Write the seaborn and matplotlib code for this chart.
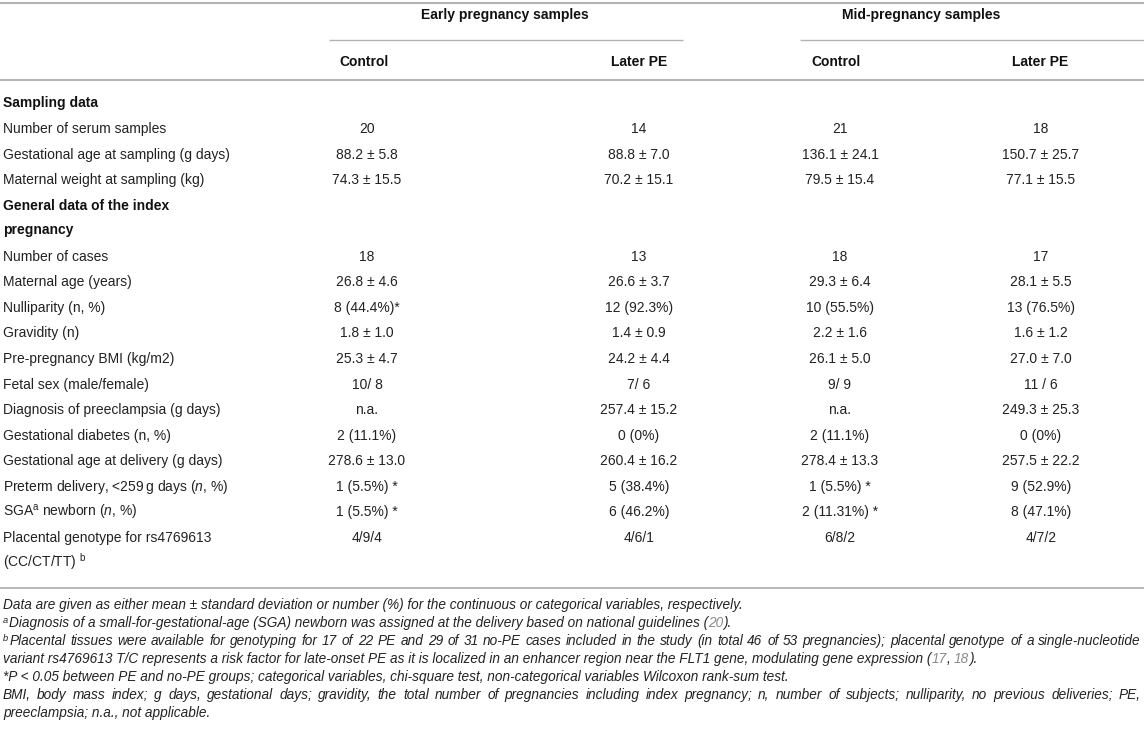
import matplotlib
matplotlib.use("Agg")
import matplotlib.pyplot as plt
import seaborn as sns

# ---------------- data ----------------
group_labels = ["Early pregnancy samples", "Mid-pregnancy samples"]
column_labels = ["Control", "Later PE", "Control", "Later PE"]

row_labels = [
    "Sampling data",
    "Number of serum samples",
    "Gestational age at sampling (g days)",
    "Maternal weight at sampling (kg)",
    "General data of the index\npregnancy",
    "Number of cases",
    "Maternal age (years)",
    "Nulliparity (n, %)",
    "Gravidity (n)",
    "Pre-pregnancy BMI (kg/m2)",
    "Fetal sex (male/female)",
    "Diagnosis of preeclampsia (g days)",
    "Gestational diabetes (n, %)",
    "Gestational age at delivery (g days)",
    "Preterm delivery, <259\u2009g days ($\\mathit{n}$, %)",
    "SGA$^{\\mathrm{a}}$ newborn ($\\mathit{n}$, %)",
    "Placental genotype for rs4769613\n(CC/CT/TT) $^{\\mathrm{b}}$",
]
section_rows = ["Sampling data", "General data of the index\npregnancy"]

early_control = ["", "20", "88.2 ± 5.8", "74.3 ± 15.5", "", "18", "26.8 ± 4.6",
                 "8 (44.4%)*", "1.8 ± 1.0", "25.3 ± 4.7", "10/ 8", "n.a.",
                 "2 (11.1%)", "278.6 ± 13.0", "1 (5.5%) *", "1 (5.5%) *", "4/9/4"]
early_pe = ["", "14", "88.8 ± 7.0", "70.2 ± 15.1", "", "13", "26.6 ± 3.7",
            "12 (92.3%)", "1.4 ± 0.9", "24.2 ± 4.4", "7/ 6", "257.4 ± 15.2",
            "0 (0%)", "260.4 ± 16.2", "5 (38.4%)", "6 (46.2%)", "4/6/1"]
mid_control = ["", "21", "136.1 ± 24.1", "79.5 ± 15.4", "", "18", "29.3 ± 6.4",
               "10 (55.5%)", "2.2 ± 1.6", "26.1 ± 5.0", "9/ 9", "n.a.",
               "2 (11.1%)", "278.4 ± 13.3", "1 (5.5%) *", "2 (11.31%) *", "6/8/2"]
mid_pe = ["", "18", "150.7 ± 25.7", "77.1 ± 15.5", "", "17", "28.1 ± 5.5",
          "13 (76.5%)", "1.6 ± 1.2", "27.0 ± 7.0", "11 / 6", "249.3 ± 25.3",
          "0 (0%)", "257.5 ± 22.2", "9 (52.9%)", "8 (47.1%)", "4/7/2"]

# footnote lines: superscript mark + list of (text, is_reference_number) pieces
footnote_marks = ["", "a", "b", "", "", "", ""]
footnote_pieces = [
    [("Data are given as either mean ± standard deviation or number (%) for the continuous or categorical variables, respectively.", False)],
    [("Diagnosis of a small-for-gestational-age (SGA) newborn was assigned at the delivery based on national guidelines (", False),
     ("20", True), (").", False)],
    [("Placental tissues were available for genotyping for 17 of 22 PE and 29 of 31 no-PE cases included in the study (in total 46 of 53 pregnancies); placental genotype of a single-nucleotide", False)],
    [("variant rs4769613 T/C represents a risk factor for late-onset PE as it is localized in an enhancer region near the FLT1 gene, modulating gene expression (", False),
     ("17", True), (", ", False), ("18", True), (").", False)],
    [("*P < 0.05 between PE and no-PE groups; categorical variables, chi-square test, non-categorical variables Wilcoxon rank-sum test.", False)],
    [("BMI, body mass index; g days, gestational days; gravidity, the total number of pregnancies including index pregnancy; n, number of subjects; nulliparity, no previous deliveries; PE,", False)],
    [("preeclampsia; n.a., not applicable.", False)],
]
footnote_justified = [False, False, True, False, False, True, False]

# ---------------- styling ----------------
sns.set_theme(style="white")
plt.rcParams["font.family"] = ["Liberation Sans", "DejaVu Sans"]
plt.rcParams["mathtext.fontset"] = "custom"
plt.rcParams["mathtext.rm"] = "Liberation Sans"
plt.rcParams["mathtext.it"] = "Liberation Sans:italic"
plt.rcParams["mathtext.bf"] = "Liberation Sans:bold"

TEXT = "#222222"
DARK = "#111111"
GRAY = "#8a8a8a"
RULE = "#b3b3b3"
W, H = 1144, 738
BODY = 10.0
NOTE = 9.8
RIGHT = 1141

fig = plt.figure(figsize=(W / 100, H / 100), dpi=100)
ax = fig.add_axes([0, 0, 1, 1])
ax.set_xlim(0, W)
ax.set_ylim(H, 0)
ax.axis("off")
renderer = fig.canvas.get_renderer()

NOTE_STYLE = dict(fontsize=NOTE, fontstyle="italic", color=TEXT)
SUP_STYLE = dict(fontsize=NOTE * 0.68, fontstyle="italic", color=TEXT)


def measure(text, **kw):
    t = ax.text(0, 0, text, **kw)
    w = t.get_window_extent(renderer=renderer).width
    t.remove()
    return w


def adv(s, **kw):
    if not s:
        return 0.0
    return measure("|" + s + "|", **kw) - measure("||", **kw)


def justified(x, y, text, right, **kw):
    words = text.split(" ")
    total = adv(text, **kw)
    extra = (right - x - total) / (len(words) - 1)
    prefix = ""
    for i, w in enumerate(words):
        ax.text(x + adv(prefix, **kw) + i * extra, y, w, ha="left",
                va="baseline", **kw)
        prefix += w + " "


# ---------------- rules ----------------
ax.plot([0, W], [3, 3], color=RULE, lw=1.5, solid_capstyle="butt")
ax.plot([329, 683], [40, 40], color=RULE, lw=1.0, solid_capstyle="butt")
ax.plot([800, W], [40, 40], color=RULE, lw=1.0, solid_capstyle="butt")
ax.plot([0, W], [80, 80], color=RULE, lw=1.4, solid_capstyle="butt")
ax.plot([0, W], [588, 588], color=RULE, lw=1.3, solid_capstyle="butt")

# ---------------- headers ----------------
BASE = 4.5
group_x = [505, 921]
for gx, g in zip(group_x, group_labels):
    ax.text(gx, 15 + BASE, g, ha="center", va="baseline", fontsize=BODY,
            fontweight="bold", color=DARK)
head_x = [364, 639, 836, 1040]
for hx, c in zip(head_x, column_labels):
    ax.text(hx, 61 + BASE, c, ha="center", va="baseline", fontsize=BODY,
            fontweight="bold", color=DARK)

# ---------------- body ----------------
col_x = [367, 639, 840, 1041]
columns = [early_control, early_pe, mid_control, mid_pe]
y = 103.0
for i, label in enumerate(row_labels):
    lines = label.split("\n")
    bold = label in section_rows
    for k, line in enumerate(lines):
        ax.text(3, y + k * 24.5 + BASE, line, ha="left", va="baseline",
                fontsize=BODY, fontweight="bold" if bold else "normal",
                color=DARK if bold else TEXT)
    for cx, col in zip(col_x, columns):
        if col[i]:
            ax.text(cx, y + BASE, col[i], ha="center", va="baseline",
                    fontsize=BODY, color=TEXT)
    y += 25.55 * len(lines)

# ---------------- footnotes ----------------
for j, (mark, pieces, just) in enumerate(zip(footnote_marks, footnote_pieces,
                                             footnote_justified)):
    yy = 605 + 18 * j + 4.2
    x0 = 3
    if mark:
        ax.text(x0, yy - 4.0, mark, ha="left", va="baseline", **SUP_STYLE)
        x0 += measure(mark, **SUP_STYLE) + 1.0
    if just:
        justified(x0, yy, pieces[0][0], RIGHT, **NOTE_STYLE)
        continue
    done = ""
    for txt, is_ref in pieces:
        pos = x0 + measure(done + txt, **NOTE_STYLE) - measure(txt, **NOTE_STYLE) if done else x0
        kw = dict(NOTE_STYLE)
        if is_ref:
            kw["color"] = GRAY
        ax.text(pos, yy, txt.rstrip(), ha="left", va="baseline", **kw)
        done += txt

fig.savefig("out.png", dpi=100)
